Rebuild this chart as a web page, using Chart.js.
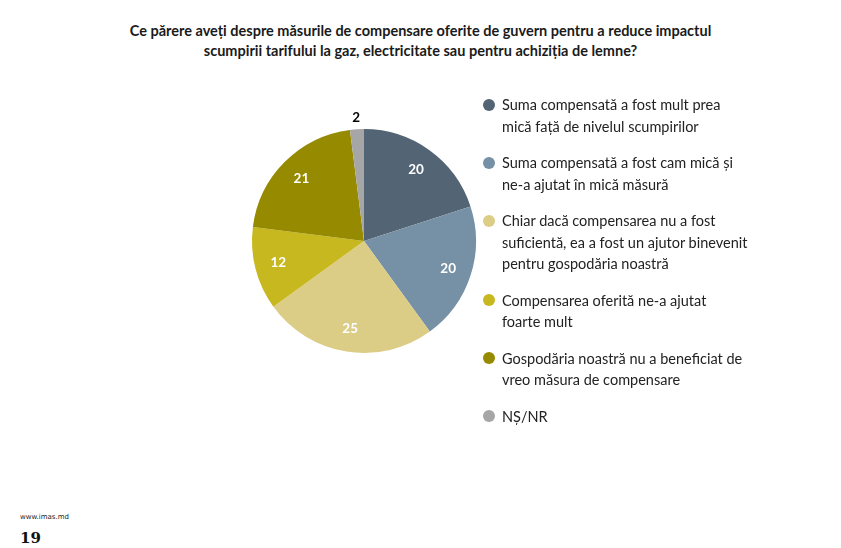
<!DOCTYPE html>
<html>
<head>
<meta charset="utf-8">
<script src="https://cdn.jsdelivr.net/npm/chart.js@4"></script>
<style>
  body { margin: 0; width: 841px; height: 548px; background: #fff; position: relative; overflow: hidden; font-family: Lato, 'Open Sans', sans-serif; }
  #title { position: absolute; left: 0; top: 21px; width: 841px; text-align: center; font-weight: bold; font-size: 14.5px; line-height: 20px; color: #1a1a1a; }
  #wrap { position: absolute; left: 224px; top: 101px; width: 280px; height: 280px; }
  #legend { position: absolute; left: 483px; top: 94px; margin: 0; padding: 0; list-style: none; }
  #legend li { position: relative; padding-left: 19px; font-size: 14.5px; line-height: 21.5px; color: #222; margin-bottom: 15px; white-space: nowrap; }
  #legend li span { position: absolute; left: 0; top: 4.5px; width: 12px; height: 12px; border-radius: 50%; }
  #site { position: absolute; left: 20px; top: 513px; font-size: 7px; color: #222; font-family: 'DejaVu Sans', sans-serif; }
  #page { position: absolute; left: 20px; top: 529px; font-size: 15px; font-weight: bold; font-family: 'DejaVu Serif', serif; color: #111; }
</style>
</head>
<body>
<div id="title">Ce părere aveți despre măsurile de compensare oferite de guvern pentru a reduce impactul<br>scumpirii tarifului la gaz, electricitate sau pentru achiziția de lemne?</div>
<div id="wrap"><canvas id="chart-pie"></canvas></div>
<ul id="legend"></ul>
<div id="site">www.imas.md</div>
<div id="page">19</div>
<script>
var labels = [
  ['Suma compensată a fost mult prea', 'mică față de nivelul scumpirilor'],
  ['Suma compensată a fost cam mică și', 'ne-a ajutat în mică măsură'],
  ['Chiar dacă compensarea nu a fost', 'suficientă, ea a fost un ajutor binevenit', 'pentru gospodăria noastră'],
  ['Compensarea oferită ne-a ajutat', 'foarte mult'],
  ['Gospodăria noastră nu a beneficiat de', 'vreo măsura de compensare'],
  ['NȘ/NR']
];
var values = [20, 20, 25, 12, 21, 2];
var colors = ['#536474', '#7691a6', '#dccd86', '#c8b81f', '#958a00', '#a6a6a6'];

// values drawn on the slices, small ones go outside
var sliceLabels = {
  id: 'sliceLabels',
  afterDatasetsDraw: function(chart) {
    let ctx = chart.ctx;
    let meta = chart.getDatasetMeta(0);
    ctx.save();
    ctx.font = 'bold 13.5px Lato, sans-serif';
    ctx.textAlign = 'center';
    ctx.textBaseline = 'middle';
    meta.data.forEach(function(arc, i) {
      let p = arc.getProps(['x', 'y', 'startAngle', 'endAngle', 'outerRadius'], true);
      let mid = (p.startAngle + p.endAngle) / 2;
      let small = values[i] < 5;
      let r = small ? p.outerRadius + 12 : p.outerRadius * 0.79;
      ctx.fillStyle = small ? '#000' : '#fff';
      ctx.fillText(values[i], p.x + Math.cos(mid) * r, p.y + Math.sin(mid) * r);
    });
    ctx.restore();
  }
};

var Pie = function() {
  let chartPie = document.getElementById('chart-pie');

  new Chart(chartPie, {
    type: 'pie',
    data: {
      labels: labels,
      datasets: [{
        data: values,
        backgroundColor: colors,
        borderWidth: 0
      }]
    },
    options: {
      responsive: true,
      maintainAspectRatio: false,
      animation: false,
      layout: { padding: 28 },
      plugins: {
        legend: { display: false },
        tooltip: { enabled: false }
      }
    },
    plugins: [sliceLabels]
  });

  let legend = document.getElementById('legend');
  labels.forEach(function(lines, i) {
    let li = document.createElement('li');
    let dot = document.createElement('span');
    dot.style.background = colors[i];
    li.appendChild(dot);
    li.innerHTML += lines.join('<br>');
    legend.appendChild(li);
  });
};

Pie();
</script>
</body>
</html>
